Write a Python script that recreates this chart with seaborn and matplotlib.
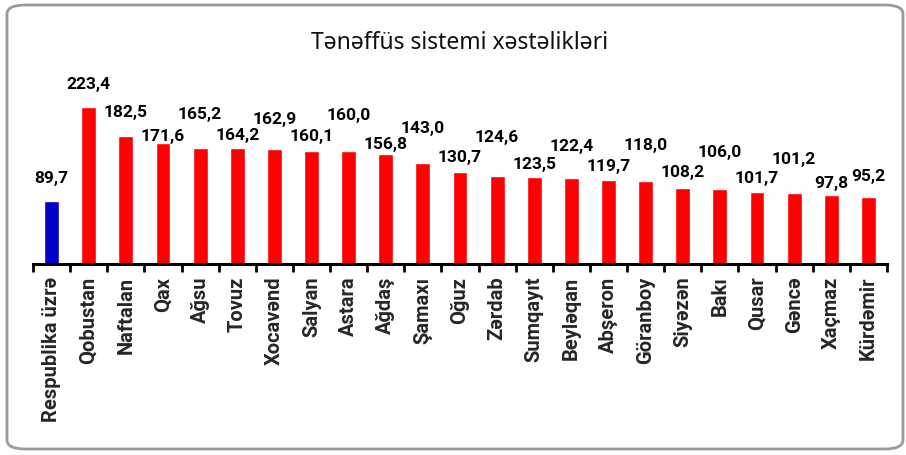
import numpy as np
import pandas as pd
import matplotlib
matplotlib.use("Agg")
import matplotlib.pyplot as plt
from matplotlib.patches import FancyBboxPatch
import seaborn as sns

# data
regions = ["Respublika üzrə", "Qobustan", "Naftalan", "Qax", "Ağsu", "Tovuz",
           "Xocavənd", "Salyan", "Astara", "Ağdaş", "Şamaxı", "Oğuz", "Zərdab",
           "Sumqayıt", "Beyləqan", "Abşeron", "Göranboy", "Siyəzən", "Bakı",
           "Qusar", "Gəncə", "Xaçmaz", "Kürdəmir"]
rates = [89.7, 223.4, 182.5, 171.6, 165.2, 164.2, 162.9, 160.1, 160.0, 156.8,
         143.0, 130.7, 124.6, 123.5, 122.4, 119.7, 118.0, 108.2, 106.0, 101.7,
         101.2, 97.8, 95.2]
title = "Tənəffüs sistemi xəstəlikləri"

# label lift above each bar top (pixels), staggered like the original
label_gap_px = [22, 22, 23, 7, 33, 13, 30, 15, 36, 9, 35, 15, 39, 13, 31, 13,
                35, 15, 37, 14, 33, 12, 21]

sns.set_theme(style="white")
plt.rcParams["font.family"] = ["Roboto", "DejaVu Sans"]

df = pd.DataFrame({"region": regions, "rate": rates})
colors = ["#0000C8"] + ["#FF0000"] * (len(regions) - 1)

W, H = 906, 455
fig = plt.figure(figsize=(W / 100, H / 100), dpi=100)
ax = fig.add_axes([33 / W, 1 - 264 / H, (887 - 33) / W, (264 - 60) / H])

sns.barplot(data=df, x="region", y="rate", hue="region", palette=colors,
            width=0.4, legend=False, saturation=1, ax=ax)

ax.set_xlim(-0.5, len(regions) - 0.5)
ax.set_ylim(0, 290)
ax.set_xlabel("")
ax.set_ylabel("")
ax.set_yticks([])
for side in ["top", "right", "left"]:
    ax.spines[side].set_visible(False)
ax.spines["bottom"].set_linewidth(2.2)
ax.spines["bottom"].set_color("black")

ax.set_xticks(range(len(regions)))
ax.set_xticklabels(regions, rotation=90, fontsize=14.5, fontweight="bold")
ax.set_xticks(np.arange(-0.5, len(regions)), minor=True)
ax.tick_params(axis="x", which="major", length=0, pad=9)
ax.tick_params(axis="x", which="minor", length=6, width=2, color="black",
               direction="out", bottom=True)

for i, (v, g) in enumerate(zip(rates, label_gap_px)):
    ax.annotate(f"{v:.1f}".replace(".", ","), (i, v), xytext=(0, g * 0.72),
                textcoords="offset points", ha="center", va="center",
                fontsize=12.5, fontweight="bold", color="black")

fig.text(460 / W, 1 - 43 / H, title, ha="center", va="center", fontsize=16.5,
         family=["Noto Sans", "DejaVu Sans"], color="#111111")

frame = FancyBboxPatch((7 / W, 6 / H), (903 - 7) / W, (450 - 6) / H,
                       boxstyle="round,pad=0,rounding_size=0.02",
                       transform=fig.transFigure, facecolor="none",
                       edgecolor="#9A9A9A", linewidth=2, clip_on=False)
fig.patches.append(frame)

fig.savefig("out.png", dpi=100)
